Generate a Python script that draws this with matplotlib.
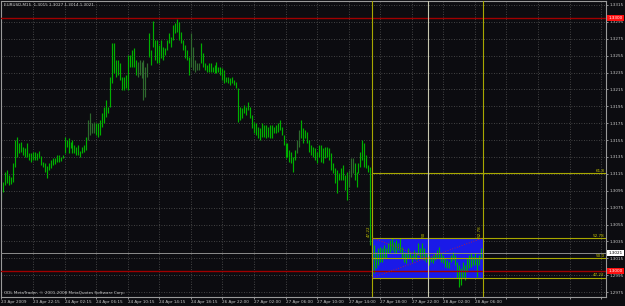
import matplotlib
matplotlib.use("Agg")
import matplotlib.pyplot as plt
import matplotlib.transforms as mtransforms
from matplotlib.patches import Rectangle

# EURUSD M15 bars (high / low)
highs = [
    1.3092, 1.3105, 1.3117, 1.3120, 1.3114, 1.3111, 1.3128, 1.3155, 1.3159, 1.3152,
    1.3153, 1.3147, 1.3146, 1.3152, 1.3140, 1.3140, 1.3141, 1.3141, 1.3140, 1.3142,
    1.3136, 1.3129, 1.3128, 1.3124, 1.3128, 1.3131, 1.3134, 1.3134, 1.3137, 1.3137,
    1.3135, 1.3137, 1.3159, 1.3155, 1.3157, 1.3153, 1.3155, 1.3149, 1.3147, 1.3149,
    1.3142, 1.3147, 1.3149, 1.3159, 1.3179, 1.3187, 1.3175, 1.3176, 1.3175, 1.3175,
    1.3179, 1.3187, 1.3194, 1.3203, 1.3194, 1.3230, 1.3270, 1.3270, 1.3250, 1.3250,
    1.3246, 1.3230, 1.3230, 1.3232, 1.3256, 1.3256, 1.3262, 1.3264, 1.3250, 1.3248,
    1.3250, 1.3248, 1.3250, 1.3242, 1.3246, 1.3282, 1.3262, 1.3296, 1.3274, 1.3274,
    1.3268, 1.3274, 1.3265, 1.3264, 1.3274, 1.3282, 1.3277, 1.3291, 1.3294, 1.3298,
    1.3295, 1.3283, 1.3274, 1.3268, 1.3262, 1.3253, 1.3282, 1.3265, 1.3250, 1.3246,
    1.3246, 1.3270, 1.3258, 1.3246, 1.3244, 1.3246, 1.3246, 1.3242, 1.3244, 1.3248,
    1.3242, 1.3242, 1.3240, 1.3238, 1.3230, 1.3230, 1.3229, 1.3230, 1.3226, 1.3224,
    1.3217, 1.3194, 1.3193, 1.3196, 1.3194, 1.3200, 1.3194, 1.3185, 1.3176, 1.3175,
    1.3170, 1.3169, 1.3175, 1.3173, 1.3173, 1.3170, 1.3173, 1.3173, 1.3170, 1.3173,
    1.3175, 1.3179, 1.3170, 1.3161, 1.3151, 1.3151, 1.3143, 1.3141, 1.3135, 1.3143,
    1.3155, 1.3167, 1.3179, 1.3169, 1.3167, 1.3165, 1.3155, 1.3149, 1.3147, 1.3146,
    1.3141, 1.3149, 1.3149, 1.3146, 1.3147, 1.3147, 1.3146, 1.3140, 1.3128, 1.3122,
    1.3120, 1.3116, 1.3122, 1.3125, 1.3114, 1.3117, 1.3120, 1.3134, 1.3134, 1.3128,
    1.3117, 1.3128, 1.3141, 1.3155, 1.3152, 1.3137, 1.3125, 1.3123, 1.3043, 1.3031,
    1.3023, 1.3027, 1.3028, 1.3027, 1.3031, 1.3027, 1.3033, 1.3037, 1.3039, 1.3034,
    1.3037, 1.3033, 1.3039, 1.3028, 1.3023, 1.3021, 1.3027, 1.3023, 1.3019, 1.3025,
    1.3023, 1.3033, 1.3027, 1.3033, 1.3027, 1.3021, 1.3019, 1.3019, 1.3017, 1.3019,
    1.3021, 1.3025, 1.3028, 1.3021, 1.3019, 1.3015, 1.3013, 1.3011, 1.3019, 1.3023,
    1.3019, 1.3011, 1.3007, 1.3004, 1.3011, 1.3007, 1.3015, 1.3019, 1.3021, 1.3018,
    1.3021, 1.3015, 1.3019, 1.3027,
]
lows = [
    1.3084, 1.3094, 1.3102, 1.3104, 1.3102, 1.3103, 1.3105, 1.3123, 1.3135, 1.3140,
    1.3141, 1.3137, 1.3135, 1.3135, 1.3131, 1.3129, 1.3131, 1.3131, 1.3131, 1.3134,
    1.3125, 1.3123, 1.3117, 1.3110, 1.3120, 1.3122, 1.3125, 1.3127, 1.3129, 1.3129,
    1.3130, 1.3134, 1.3140, 1.3147, 1.3140, 1.3146, 1.3140, 1.3140, 1.3137, 1.3137,
    1.3135, 1.3140, 1.3141, 1.3143, 1.3155, 1.3161, 1.3163, 1.3163, 1.3161, 1.3159,
    1.3161, 1.3170, 1.3175, 1.3182, 1.3187, 1.3194, 1.3223, 1.3235, 1.3230, 1.3232,
    1.3226, 1.3214, 1.3214, 1.3217, 1.3214, 1.3242, 1.3242, 1.3242, 1.3232, 1.3230,
    1.3232, 1.3229, 1.3203, 1.3206, 1.3230, 1.3253, 1.3244, 1.3265, 1.3250, 1.3246,
    1.3246, 1.3252, 1.3250, 1.3256, 1.3262, 1.3270, 1.3265, 1.3274, 1.3282, 1.3283,
    1.3274, 1.3270, 1.3262, 1.3252, 1.3250, 1.3232, 1.3242, 1.3238, 1.3236, 1.3238,
    1.3238, 1.3246, 1.3242, 1.3238, 1.3236, 1.3236, 1.3236, 1.3236, 1.3235, 1.3235,
    1.3236, 1.3232, 1.3226, 1.3223, 1.3224, 1.3223, 1.3220, 1.3223, 1.3220, 1.3217,
    1.3176, 1.3179, 1.3181, 1.3187, 1.3185, 1.3191, 1.3181, 1.3169, 1.3163, 1.3161,
    1.3157, 1.3155, 1.3159, 1.3159, 1.3157, 1.3159, 1.3157, 1.3157, 1.3163, 1.3163,
    1.3165, 1.3167, 1.3161, 1.3149, 1.3134, 1.3135, 1.3129, 1.3128, 1.3117, 1.3131,
    1.3140, 1.3147, 1.3157, 1.3151, 1.3157, 1.3151, 1.3141, 1.3137, 1.3135, 1.3131,
    1.3128, 1.3135, 1.3129, 1.3128, 1.3134, 1.3135, 1.3131, 1.3120, 1.3116, 1.3104,
    1.3092, 1.3108, 1.3108, 1.3108, 1.3096, 1.3084, 1.3099, 1.3111, 1.3116, 1.3108,
    1.3099, 1.3116, 1.3123, 1.3131, 1.3123, 1.3122, 1.3117, 1.3031, 1.3011, 1.2998,
    1.3004, 1.3007, 1.3011, 1.3011, 1.3015, 1.3015, 1.3021, 1.3023, 1.3025, 1.3023,
    1.3021, 1.3025, 1.3023, 1.3015, 1.3011, 1.3009, 1.3015, 1.3015, 1.3011, 1.3015,
    1.3013, 1.3019, 1.3015, 1.3017, 1.3013, 1.3011, 1.3013, 1.3007, 1.3011, 1.3009,
    1.3013, 1.3015, 1.3015, 1.3011, 1.3009, 1.3005, 1.3004, 1.3004, 1.3011, 1.3013,
    1.3007, 1.2992, 1.2981, 1.2983, 1.2992, 1.2989, 1.2999, 1.3004, 1.3005, 1.3007,
    1.3007, 1.2993, 1.3007, 1.3014,
]
last_ohlc = ["1.3015", "1.3027", "1.3014", "1.3021"]
symbol = "EURUSD,M15"

time_labels = [
    "23 Apr 2009", "23 Apr 22:15", "24 Apr 02:15", "24 Apr 06:15", "24 Apr 10:15",
    "24 Apr 14:15", "24 Apr 18:15", "26 Apr 22:00", "27 Apr 02:00", "27 Apr 06:00",
    "27 Apr 10:00", "27 Apr 14:00", "27 Apr 18:00", "27 Apr 22:00", "28 Apr 02:00",
    "28 Apr 06:00",
]
price_ticks = [
    1.2975, 1.2995, 1.3015, 1.3035, 1.3055, 1.3075, 1.3095, 1.3115, 1.3135,
    1.3155, 1.3175, 1.3195, 1.3215, 1.3235, 1.3255, 1.3275, 1.3295, 1.3315,
]
red_levels = [1.3300, 1.3000]
bid = 1.3021

fib_labels = ["47.22", "50.0", "52.78", "61.8"]
fib_prices = [1.2992, 1.3015, 1.3039, 1.3116]
fib_time_labels = ["47.22", "50", "52.78"]
fib_time_bars = [188, 216, 244]

# bars that look darker in the screenshot
dim_bars = [44, 45, 46, 47, 69, 70, 71, 72, 73, 74, 96, 97, 98, 99, 100,
            150, 151, 176, 177, 178]

bg = "#0c0c10"
txt = "#c8c8c8"
olive = "#a8a800"

fig = plt.figure(figsize=(6.25, 3.06), dpi=100, facecolor=bg)
ax = fig.add_axes([1 / 625, 9 / 306, 605 / 625, 296 / 306], facecolor=bg)
ax.set_xlim(-0.25, 306.5)
ax.set_ylim(1.29692, 1.33197)

# grid
ax.set_axisbelow(True)
ax.set_yticks(price_ticks)
ax.set_yticklabels(["%.4f" % p for p in price_ticks])
ticks = list(range(0, 305, 16))
ax.set_xticks(ticks)
ax.set_xticklabels(time_labels + [""] * (len(ticks) - len(time_labels)), ha="left")
ax.grid(True, color="#555555", ls=(0, (1, 2)), lw=0.6)
ax.yaxis.tick_right()
ax.tick_params(labelsize=3, colors=txt, length=1.5, width=0.5, pad=1)
for s in ax.spines.values():
    s.set_color("#9a9a9a")
    s.set_linewidth(0.8)

# rectangle between the fibo levels
x0, x1 = fib_time_bars[0], fib_time_bars[-1]
ax.add_patch(Rectangle((x0, fib_prices[0]), x1 - x0, fib_prices[2] - fib_prices[0],
                       facecolor="#1a1ae8", edgecolor="none", zorder=1))

# bars
idx = list(range(len(highs)))
norm = [i for i in idx if i not in dim_bars]
ax.vlines(norm, [lows[i] for i in norm], [highs[i] for i in norm],
          color="#00b000", lw=0.85, zorder=2)
ax.vlines(dim_bars, [lows[i] for i in dim_bars], [highs[i] for i in dim_bars],
          color="#2e6a2e", lw=0.85, zorder=2)

# horizontal lines
for p in red_levels:
    ax.axhline(p, color="#a00000", lw=1.0, zorder=3)
ax.axhline(bid, color="#8c8c8c", lw=0.7, zorder=3)

# fibo levels
ax.hlines(fib_prices, x0, 306.5, color=olive, lw=0.8, zorder=3)
for lab, p in zip(fib_labels, fib_prices):
    ax.text(305.8, p + 0.00005, lab, ha="right", va="bottom", fontsize=3,
            color="#c8c800", zorder=4)

# fibo time zones
for lab, b in zip(fib_time_labels, fib_time_bars):
    col = "#c8c8b0" if lab == "50" else olive
    ax.axvline(b, color=col, lw=0.8, zorder=3)
    ax.text(b - 0.8, fib_prices[2] + 0.0001, lab, rotation=90, ha="right", va="bottom",
            fontsize=3, color="#c8c800", zorder=4)

# fibo trend lines
ax.plot([x0, x1], [fib_prices[0], fib_prices[2]], color="#d02020", lw=0.6,
        ls=(0, (1, 2)), zorder=3)
ax.plot([x0, fib_time_bars[1]], [fib_prices[2], fib_prices[1]], color="#d02020",
        lw=0.6, ls=(0, (1, 2)), zorder=3)

# price boxes on the axis
trans = mtransforms.blended_transform_factory(ax.transAxes, ax.transData)
for p in red_levels:
    ax.text(1.004, p, "%.4f" % p, transform=trans, ha="left", va="center", fontsize=3,
            color="white", clip_on=False,
            bbox=dict(facecolor="#ff1010", edgecolor="none", pad=0.8))
ax.text(1.004, bid, "%.4f" % bid, transform=trans, ha="left", va="center", fontsize=3,
        color="black", clip_on=False,
        bbox=dict(facecolor="white", edgecolor="none", pad=0.8))

# header and copyright
ax.text(3 / 605, 1 - 4 / 296, symbol + "  " + " ".join(last_ohlc), transform=ax.transAxes,
        ha="left", va="center", fontsize=3, color=txt)
ax.text(3 / 605, 4 / 296, "ODL MetaTrader, \u00a9 2001-2008 MetaQuotes Software Corp.",
        transform=ax.transAxes, ha="left", va="center", fontsize=3, color=txt)

fig.savefig("out.png", dpi=100, facecolor=bg)
